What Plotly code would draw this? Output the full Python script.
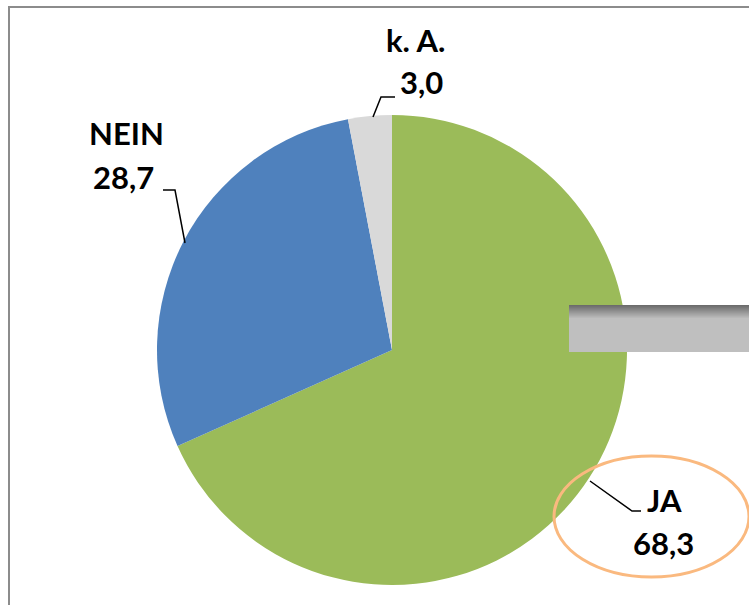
import plotly.graph_objects as go

W, H = 749, 605

categories = ["JA", "NEIN", "k. A."]
values = [68.3, 28.7, 3.0]
value_labels = ["68,3", "28,7", "3,0"]
colors = ["#9BBB59", "#4F81BD", "#D9D9D9"]

def px(x):
    return x / W

def py(y):
    return 1 - y / H

cx, cy, r = 392, 350, 235

fig = go.Figure(go.Pie(
    labels=categories,
    values=values,
    sort=False,
    direction="clockwise",
    rotation=0,
    marker=dict(colors=colors, line=dict(width=0)),
    textinfo="none",
    hoverinfo="label+value",
    showlegend=False,
    domain=dict(x=[px(cx - r), px(cx + r)], y=[py(cy + r), py(cy - r)]),
))

shapes = []
# chart border (top and left edges visible)
shapes.append(dict(type="line", xref="paper", yref="paper",
                   x0=px(9), x1=px(9), y0=py(605), y1=py(6),
                   line=dict(color="#8C8C8C", width=2)))
shapes.append(dict(type="line", xref="paper", yref="paper",
                   x0=px(9), x1=px(749), y0=py(7), y1=py(7),
                   line=dict(color="#8C8C8C", width=2)))

# gray gradient box
top, bot = 305, 352
grad_h = 14
c0 = (0x6C, 0x6C, 0x6C)
c1 = (0xBF, 0xBF, 0xBF)
shapes.append(dict(type="rect", xref="paper", yref="paper",
                   x0=px(569), x1=px(760), y0=py(bot), y1=py(top),
                   line=dict(width=0), fillcolor="#BFBFBF", layer="above"))
for i in range(grad_h):
    t = i / (grad_h - 1)
    c = tuple(int(c0[k] + (c1[k] - c0[k]) * t) for k in range(3))
    shapes.append(dict(type="rect", xref="paper", yref="paper",
                       x0=px(569), x1=px(760), y0=py(top + i + 1), y1=py(top + i),
                       line=dict(width=0), fillcolor="rgb(%d,%d,%d)" % c, layer="above"))

# orange ellipse
shapes.append(dict(type="circle", xref="paper", yref="paper",
                   x0=px(554), x1=px(749), y0=py(577), y1=py(456),
                   line=dict(color="#FAB97F", width=3), fillcolor="rgba(0,0,0,0)", layer="above"))

# leader lines
leaders = [
    [(590, 481), (632, 511), (641, 511)],
    [(185, 243), (175, 190), (163, 190)],
    [(373, 117), (381, 97), (395, 97)],
]
for pts in leaders:
    path = "M %f %f " % (px(pts[0][0]), py(pts[0][1]))
    for p in pts[1:]:
        path += "L %f %f " % (px(p[0]), py(p[1]))
    shapes.append(dict(type="path", xref="paper", yref="paper", path=path,
                       line=dict(color="black", width=1.5), layer="above"))

fig.update_layout(shapes=shapes)

font = dict(family="Lato, Open Sans, sans-serif", size=31, color="black")
label_pos = [((664, 500), (663, 543)), ((126, 133), (123, 177)), ((415, 40), (421, 82))]
annotations = []
for name, val, (p1, p2) in zip(categories, value_labels, label_pos):
    annotations.append(dict(x=px(p1[0]), y=py(p1[1]), xref="paper", yref="paper",
                            text="<b>%s</b>" % name, showarrow=False, font=font,
                            xanchor="center", yanchor="middle"))
    annotations.append(dict(x=px(p2[0]), y=py(p2[1]), xref="paper", yref="paper",
                            text="<b>%s</b>" % val, showarrow=False, font=font,
                            xanchor="center", yanchor="middle"))

fig.update_layout(
    annotations=annotations,
    width=W, height=H,
    margin=dict(l=0, r=0, t=0, b=0),
    paper_bgcolor="white",
    plot_bgcolor="white",
)

fig.write_html("out.html", config={"displayModeBar": False},
               post_script="document.body.style.margin='0';document.body.style.overflow='hidden';")
